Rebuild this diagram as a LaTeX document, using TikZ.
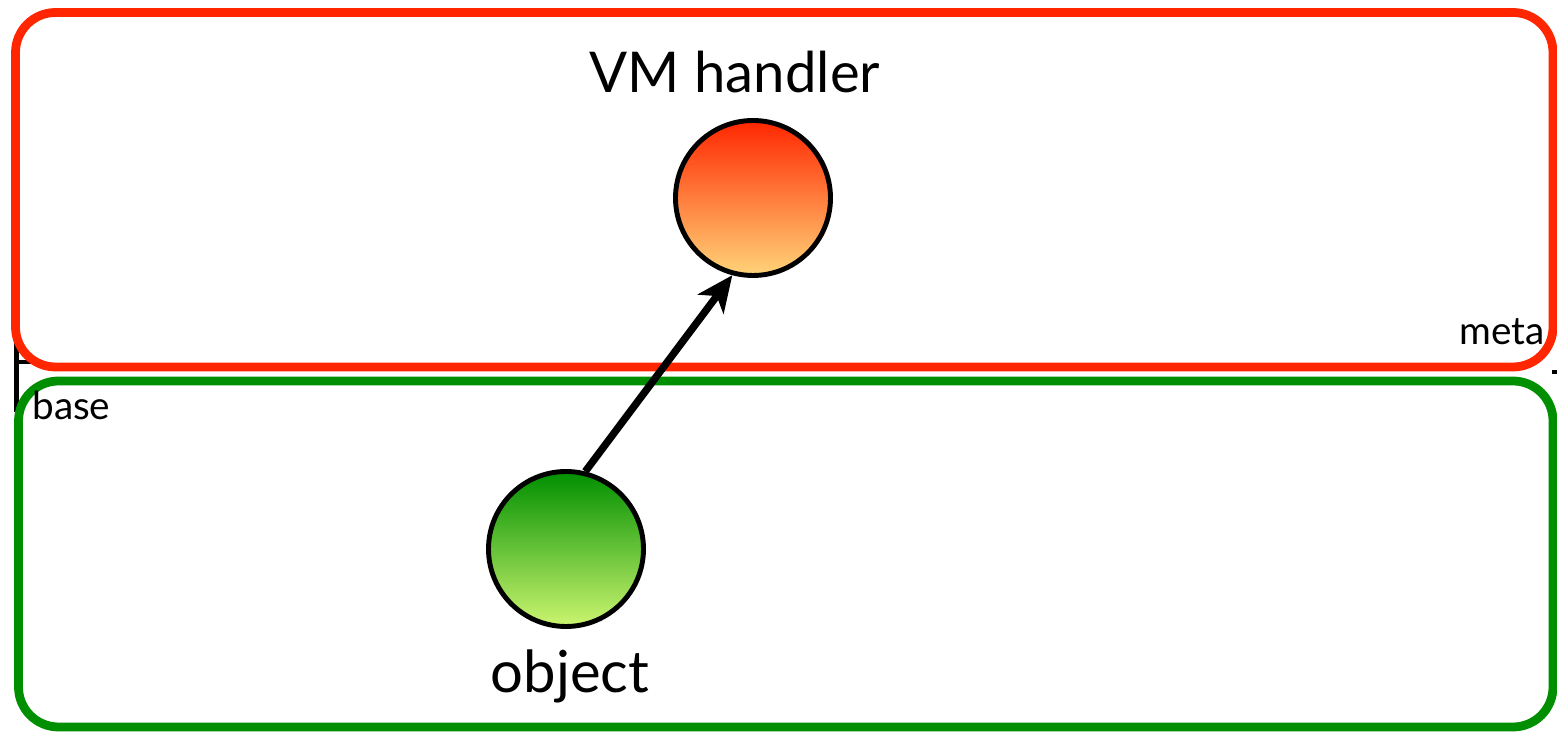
\documentclass[tikz,border=0pt]{standalone}
\usepackage{fontspec}
\setmainfont{Lato}
\usepackage{tikz}
\usetikzlibrary{shapes.geometric, arrows.meta, positioning}
\definecolor{metacolor}{RGB}{255, 38, 0}
\definecolor{metalight}{RGB}{255, 212, 121}
\definecolor{basecolor}{RGB}{0, 143, 0}
\definecolor{baselight}{RGB}{204, 245, 112}
\tikzstyle{layerbox} = [rounded corners=0.8cm, line width=5pt, fill=white]
\tikzstyle{thing} = [circle, minimum size=3.1cm, inner sep=0pt, draw=black, line width=2.8pt]
\tikzstyle{biglabel} = [font=\fontsize{32}{38}\selectfont]
\tikzstyle{thinglabel} = [font=\fontsize{33}{40}\selectfont]
\tikzstyle{layerlabel} = [inner sep=0pt, font=\fontsize{22}{26}\selectfont]
\tikzstyle{arrow} = [line width=4.2pt, -{Stealth[length=0.72cm, width=0.64cm, inset=0.2cm]}]

\begin{document}
\begin{tikzpicture}
\useasboundingbox (0,0) rectangle (31.14,14.64);

% Rahmen dahinter
\draw [line width=2.4pt] (0.33,13.84) -- (0.33,6.4) (0.33,7.4) -- (30.2,7.4);
\draw [line width=2.4pt] (31.04,7.2) -- (31.14,7.2);

% Ebenen
\draw [layerbox, draw=metacolor] (0.31,14.39) rectangle (31.06,7.3);
\draw [layerbox, draw=basecolor] (0.37,7.02) rectangle (31.06,0.1);
\node (metalabel) [layerlabel, anchor=base east] at (30.9,7.74) {meta};
\node (baselabel) [layerlabel, anchor=base west] at (0.64,6.24) {base};

% Objekte
\node (handler) [thing, top color=metacolor, bottom color=metalight] at (15.06,10.68) {};
\node (object) [thing, top color=basecolor, bottom color=baselight] at (11.32,3.66) {};
\node (handlerlabel) [biglabel, anchor=base] at (14.7,12.78) {VM handler};
\node (objectlabel) [thinglabel, anchor=base] at (11.4,0.78) {object};

% Pfeil
\draw [arrow] (object.76) -- (handler.255);

\end{tikzpicture}
\end{document}
